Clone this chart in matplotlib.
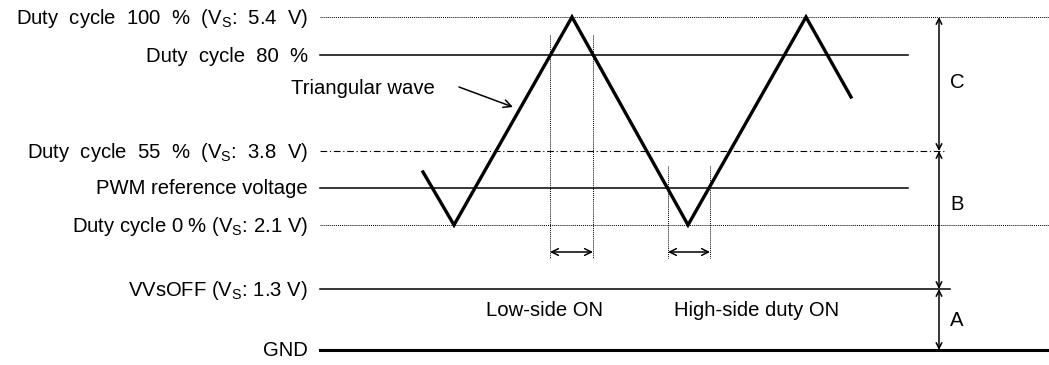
import matplotlib
matplotlib.use("Agg")
import matplotlib.pyplot as plt

plt.rcParams['font.family'] = ['Liberation Sans', 'DejaVu Sans']
plt.rcParams['mathtext.fontset'] = 'custom'
plt.rcParams['mathtext.rm'] = 'Liberation Sans'
plt.rcParams['mathtext.it'] = 'Liberation Sans'

# ---- data (diagram coordinates, y grows downward) ----
level_labels = ["Duty  cycle  100  %  (V$_\\mathrm{S}$:  5.4  V)",
                "Duty  cycle  80  %",
                "Duty  cycle  55  %  (V$_\\mathrm{S}$:  3.8  V)",
                "PWM reference voltage",
                "Duty cycle 0 % (V$_\\mathrm{S}$: 2.1 V)",
                "VVsOFF (V$_\\mathrm{S}$: 1.3 V)",
                "GND"]
level_y = [17, 55, 151, 188, 225, 289, 350]
level_end = [1049, 908, 946, 908, 1049, 950, 1049]
level_style = ["dotted", "solid", "dashdot", "solid", "dotted", "solid", "thick"]

wave_x = [423, 454, 572, 688, 806, 851]
wave_y = [172, 225, 17, 225, 17, 97]

on_pairs = [(550, 593, 35), (668, 710, 166)]   # x1, x2, top of guide lines
arrow_y = 252
on_labels = ["Low-side ON", "High-side duty ON"]
on_label_x = [544, 757]
on_label_y = 311

dim_x = 939
dim_bounds = [(17, 151), (151, 289), (289, 350)]
dim_labels = ["C", "B", "A"]
dim_label_y = [83, 205, 321]

fig = plt.figure(figsize=(10.49, 3.65), dpi=100)
ax = fig.add_axes([0, 0, 1, 1])
ax.set_xlim(0, 1049)
ax.set_ylim(365, 0)
ax.axis('off')

fs = 14.6
line_start = 320
for lab, y, xe, st in zip(level_labels, level_y, level_end, level_style):
    if st == "dotted":
        ax.plot([line_start, xe], [y, y], color='black', lw=0.7, linestyle=(0, (1, 1)))
    elif st == "dashdot":
        ax.plot([line_start, xe], [y, y], color='black', lw=0.8, linestyle=(0, (6, 2.5, 1, 2.5)))
    elif st == "thick":
        ax.plot([line_start, xe], [y, y], color='black', lw=2.2)
    else:
        ax.plot([line_start, xe], [y, y], color='black', lw=1.1)
    ax.text(308, y + 1, lab, ha='right', va='center', fontsize=fs)

# triangular wave
ax.plot(wave_x, wave_y, color='black', lw=2.4, solid_joinstyle='miter')
ax.text(291, 88, "Triangular wave", ha='left', va='center', fontsize=fs)
ax.annotate("", xy=(513, 107), xytext=(459, 87),
            arrowprops=dict(arrowstyle='->', color='black', lw=1.1, mutation_scale=14,
                            shrinkA=0, shrinkB=0))

# ON time markers
for (x1, x2, top) in on_pairs:
    for xx in (x1, x2):
        ax.plot([xx, xx], [top, 258], color='black', lw=0.7, linestyle=(0, (1, 1)))
    ax.annotate("", xy=(x1, arrow_y), xytext=(x2, arrow_y),
                arrowprops=dict(arrowstyle='<->', color='black', lw=1.1, mutation_scale=12,
                                shrinkA=0, shrinkB=0))
for lab, x in zip(on_labels, on_label_x):
    ax.text(x, on_label_y, lab, ha='center', va='center', fontsize=fs)

# dimension arrows
for (y1, y2), lab, ly in zip(dim_bounds, dim_labels, dim_label_y):
    ax.annotate("", xy=(dim_x, y1), xytext=(dim_x, y2),
                arrowprops=dict(arrowstyle='<->', color='black', lw=1.1, mutation_scale=10,
                                shrinkA=0, shrinkB=0))
    ax.text(950, ly, lab, ha='left', va='center', fontsize=fs)

fig.savefig("out.png", dpi=100)
